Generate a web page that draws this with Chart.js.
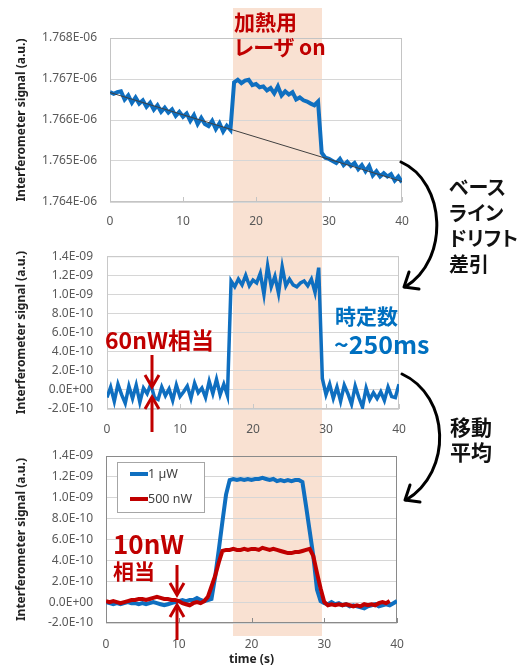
<!DOCTYPE html>
<html>
<head>
<meta charset="utf-8">
<script src="https://cdn.jsdelivr.net/npm/chart.js@4.4.1/dist/chart.umd.min.js"></script>
<style>
  body { margin: 0; width: 520px; height: 665px; position: relative; overflow: hidden; background: #fff; }
  #band { position: absolute; top: 8px; height: 628px; background: #f9e1d2; z-index: 0; }
  canvas { position: absolute; left: 0; z-index: 1; }
  .jp { position: absolute; z-index: 2; white-space: nowrap; font-family: "Noto Sans CJK JP", sans-serif;
        font-weight: 700; font-feature-settings: "palt"; }
  .red { color: #c00000; }
  .blue { color: #0070c0; }
  .blk { color: #111; }
  svg { position: absolute; left: 0; top: 0; z-index: 3; }
</style>
</head>
<body>
<div id="band"></div>
<canvas id="raw" width="520" height="235" style="top:0"></canvas>
<canvas id="sub" width="520" height="210" style="top:235px"></canvas>
<canvas id="avg" width="520" height="230" style="top:435px"></canvas>

<div class="jp red" style="left:234px;top:9px;font-size:21px;line-height:25px">加熱用<br>レーザ on</div>
<div class="jp blk" style="left:449px;top:174px;font-size:20px;line-height:25.5px">ベース<br>ライン<br>ドリフト<br>差引</div>
<div class="jp blk" style="left:450px;top:414px;font-size:21px;line-height:25px">移動<br>平均</div>
<div class="jp blue" style="left:335px;top:301px;font-size:21px;line-height:28px">時定数</div>
<div class="jp blue" style="left:334px;top:328px;font-size:25px;line-height:30px">~250ms</div>
<div class="jp red" style="left:105px;top:325px;font-size:23px;line-height:28px">60nW相当</div>
<div class="jp red" style="left:113px;top:528px;font-size:26px;line-height:30px">10nW</div>
<div class="jp red" style="left:113px;top:557px;font-size:21px;line-height:26px">相当</div>

<svg width="520" height="665">
  <g fill="none" stroke="#000" stroke-width="3" stroke-linecap="round" stroke-linejoin="round">
    <path d="M401,162 C446,182 450,260 405,287"/>
    <path d="M409,272 L404,287 L419,289"/>
    <path d="M402,374 C450,396 453,472 406,500"/>
    <path d="M410,485 L405,500 L420,502"/>
  </g>
  <g fill="none" stroke="#c00000" stroke-width="3">
    <path d="M152,355 V386"/><path d="M145,375 L152,387 L159,375"/>
    <path d="M152,398 V432"/><path d="M145,409 L152,397 L159,409"/>
    <path d="M177,565 V594"/><path d="M170,583 L177,595 L184,583"/>
    <path d="M177,606 V640"/><path d="M170,617 L177,605 L184,617"/>
  </g>
</svg>

<script>
// time axis (s)
const timeS = [0,0.5,1,1.5,2,2.5,3,3.5,4,4.5,5,5.5,6,6.5,7,7.5,8,8.5,9,9.5,
  10,10.5,11,11.5,12,12.5,13,13.5,14,14.5,15,15.5,16,16.5,17,17.5,18,18.5,19,19.5,
  20,20.5,21,21.5,22,22.5,23,23.5,24,24.5,25,25.5,26,26.5,27,27.5,28,28.5,29,29.5,
  30,30.5,31,31.5,32,32.5,33,33.5,34,34.5,35,35.5,36,36.5,37,37.5,38,38.5,39,39.5,40];

// raw interferometer signal, units of 1E-06
const rawSignal = [1.76668,1.76664,1.76668,1.76670,1.76650,1.76660,1.76642,1.76655,1.76640,1.76648,
  1.76632,1.76642,1.76625,1.76636,1.76620,1.76630,1.76618,1.76626,1.76610,1.76620,
  1.76608,1.76616,1.76598,1.76612,1.76590,1.76605,1.76590,1.76585,1.76598,1.76578,
  1.76592,1.76572,1.76586,1.76576,1.76692,1.76698,1.76690,1.76696,1.76698,1.76685,
  1.76688,1.76680,1.76682,1.76672,1.76678,1.76665,1.76682,1.76660,1.76670,1.76662,
  1.76668,1.76650,1.76655,1.76648,1.76645,1.76640,1.76636,1.76645,1.76520,1.76508,
  1.76505,1.76500,1.76495,1.76505,1.76490,1.76498,1.76488,1.76495,1.76480,1.76490,
  1.76475,1.76488,1.76465,1.76475,1.76462,1.76470,1.76462,1.76468,1.76452,1.76462,
  1.76448];

// baseline drift line
const driftTime = [0, 40];
const driftSignal = [1.76667, 1.76450];

// after drift subtraction, units of 1E-10
const subtracted = [-0.8,0.3,-1.2,0.6,-0.5,-1.4,0.4,-0.9,0.5,-1.3,
  0.2,-0.4,0.6,-0.8,-1.0,0.3,-0.6,0.1,-1.1,0.5,
  -0.7,-0.2,0.4,-0.9,0.7,-0.3,0.2,-0.8,0.9,-0.4,
  1.1,-0.5,0.6,-0.6,11.4,10.8,11.6,11.0,12.0,10.9,
  11.5,11.2,12.2,10.0,13.0,10.8,11.9,10.1,12.9,10.9,
  11.6,11.0,10.8,11.2,11.4,10.9,11.6,10.2,12.8,1.2,
  -0.5,0.6,-0.9,0.3,-1.2,0.5,-0.4,-1.5,0.4,-0.8,
  -1.8,0.2,-1.0,-0.3,-0.9,-0.2,-1.1,0.3,-0.7,-0.8,
  0.6];

// moving average, units of 1E-10
const avg1uW = [0.0,-0.1,-0.2,-0.1,-0.2,-0.1,0.0,-0.1,-0.1,-0.2,
  -0.1,-0.2,-0.1,0.0,-0.1,-0.2,-0.3,-0.2,-0.1,0.0,
  0.1,0.2,0.1,0.2,0.2,0.4,0.2,0.1,0.2,0.3,
  2.4,5.0,7.7,10.3,11.7,11.8,11.7,11.8,11.7,11.8,
  11.7,11.8,11.8,11.9,11.8,11.7,11.8,11.6,11.7,11.6,
  11.7,11.6,11.7,11.7,11.5,9.2,6.8,4.4,1.2,0.1,
  -0.1,-0.2,0.0,-0.2,-0.1,-0.3,-0.2,-0.4,-0.3,-0.4,
  -0.5,-0.6,-0.4,-0.3,-0.2,-0.4,-0.3,-0.2,-0.3,-0.1,
  0.1];
const avg500nW = [0.1,0.0,0.1,0.0,-0.1,0.0,0.1,0.2,0.2,0.3,
  0.3,0.2,0.3,0.4,0.5,0.4,0.3,0.3,0.2,0.2,
  0.1,-0.1,-0.2,-0.3,-0.1,0.0,-0.1,0.1,0.5,1.5,
  2.5,3.8,4.9,5.0,5.0,5.1,5.0,5.0,5.1,5.0,
  5.1,5.1,5.0,5.2,5.1,5.0,5.1,5.0,4.9,4.8,
  4.7,4.7,4.8,4.8,4.9,5.0,5.1,4.4,2.8,1.3,
  0.0,-0.3,-0.2,-0.3,-0.2,-0.3,-0.2,-0.3,-0.4,-0.3,
  -0.4,-0.2,-0.3,-0.2,-0.3,-0.1,0.0,-0.1,0.1];

const seriesLabels = ['1 µW', '500 nW'];
const xTicks = ['0', '10', '20', '30', '40'];
const yTicksRaw = ['1.764E-06', '1.765E-06', '1.766E-06', '1.767E-06', '1.768E-06'];
const yTicksSub = ['-2.0E-10', '0.0E+00', '2.0E-10', '4.0E-10', '6.0E-10', '8.0E-10', '1.0E-09', '1.2E-09', '1.4E-09'];

// heating laser on / off (s)
const heaterOn = 16.8;
const heaterOff = 29.0;

const BLUE = '#0f6fc0';
const RED = '#c00000';
const TICK_FONT = { family: '"Noto Sans"', size: 12 };

function pts(xs, ys) {
  return ys.map((v, i) => ({ x: xs[i], y: v }));
}

// plot-area box + small inward ticks like Excel
const framePlugin = {
  id: 'frame',
  defaults: { color: '#c0c0c0' },
  beforeDatasetsDraw(chart, args, opts) {
    const { ctx, chartArea: a, scales: { x } } = chart;
    ctx.save();
    ctx.strokeStyle = opts.color;
    ctx.lineWidth = 1;
    ctx.strokeRect(a.left + 0.5, a.top + 0.5, a.width - 1, a.height - 1);
    x.ticks.forEach(t => {
      const px = Math.round(x.getPixelForValue(t.value)) + 0.5;
      ctx.beginPath();
      ctx.moveTo(px, a.bottom);
      ctx.lineTo(px, a.bottom - 5);
      ctx.stroke();
    });
    ctx.restore();
  }
};

const boxLegend = {
  id: 'boxLegend',
  defaults: { show: false },
  afterDatasetsDraw(chart, args, opts) {
    if (!opts.show) return;
    const { ctx, chartArea: a } = chart;
    const x0 = a.left + 11, y0 = a.top + 6;
    ctx.save();
    ctx.fillStyle = '#fff';
    ctx.fillRect(x0, y0, 87, 50);
    ctx.strokeStyle = '#a6a6a6';
    ctx.lineWidth = 1;
    ctx.strokeRect(x0 + 0.5, y0 + 0.5, 87, 50);
    ctx.font = '12.5px "Noto Sans"';
    ctx.textBaseline = 'middle';
    chart.data.datasets.forEach((d, i) => {
      const y = y0 + 12 + i * 25;
      ctx.strokeStyle = d.borderColor;
      ctx.lineWidth = 4;
      ctx.beginPath();
      ctx.moveTo(x0 + 13, y);
      ctx.lineTo(x0 + 31, y);
      ctx.stroke();
      ctx.fillStyle = '#404040';
      ctx.fillText(d.label, x0 + 31, y);
    });
    ctx.restore();
  }
};

Chart.register(framePlugin, boxLegend);

function makeChart(id, datasets, cfg) {
  return new Chart(document.getElementById(id), {
    type: 'line',
    data: { datasets },
    options: {
      responsive: false,
      animation: false,
      layout: { padding: { top: cfg.top, right: cfg.right, left: 0, bottom: 0 } },
      elements: { point: { radius: 0 }, line: { tension: 0 } },
      plugins: {
        legend: { display: false },
        tooltip: { enabled: false },
        frame: { color: cfg.frame },
        boxLegend: { show: !!cfg.legend }
      },
      scales: {
        x: {
          type: 'linear', min: 0, max: 40,
          afterFit(s) { s.height = cfg.xh; },
          grid: { display: false },
          border: { display: false },
          ticks: { stepSize: 10, padding: cfg.xpad, color: '#595959', font: TICK_FONT, maxRotation: 0,
                   callback: (v, i) => xTicks[i] },
          title: cfg.xTitle ? { display: true, text: cfg.xTitle, color: '#222',
                   font: { family: '"Noto Sans"', size: 12, weight: 'bold' }, padding: { top: 0, bottom: -2 } }
                 : { display: false }
        },
        y: {
          min: cfg.min, max: cfg.max,
          afterFit(s) { s.width = cfg.yw; },
          grid: { color: '#d6d6d6', drawTicks: false },
          border: { display: false },
          ticks: { stepSize: cfg.step, padding: cfg.ypad, color: '#595959', font: TICK_FONT,
                   callback: (v, i) => cfg.labels[i] },
          title: { display: true, text: 'Interferometer signal (a.u.)', color: '#222',
                   font: { family: '"Noto Sans"', size: 12, weight: 'bold' }, padding: { top: 14, bottom: 0 } }
        }
      }
    }
  });
}

const rawChart = makeChart('raw', [
  { data: pts(driftTime, driftSignal), borderColor: '#404040', borderWidth: 1, order: 0 },
  { data: pts(timeS, rawSignal), borderColor: BLUE, borderWidth: 4, order: 1 }
], { top: 38, right: 118, yw: 110, xh: 33, xpad: 4, ypad: 13, min: 1.764, max: 1.768, step: 0.001,
     labels: yTicksRaw, frame: '#c4c4c4' });

makeChart('sub', [
  { data: pts(timeS, subtracted), borderColor: BLUE, borderWidth: 3.5 }
], { top: 18, right: 121, yw: 107, xh: 36, xpad: 5, ypad: 14, min: -2, max: 14, step: 2,
     labels: yTicksSub, frame: '#c8c8c8' });

makeChart('avg', [
  { label: seriesLabels[0], data: pts(timeS, avg1uW), borderColor: BLUE, borderWidth: 4, order: 1 },
  { label: seriesLabels[1], data: pts(timeS, avg500nW), borderColor: RED, borderWidth: 4, order: 0 }
], { top: 21, right: 123, yw: 106, xh: 42, xpad: 6, ypad: 13, min: -2, max: 14, step: 2,
     labels: yTicksSub, frame: '#8a8a8a', legend: true, xTitle: 'time (s)' });

// heating band placed through the top chart's time scale
const band = document.getElementById('band');
const bx0 = rawChart.scales.x.getPixelForValue(heaterOn);
const bx1 = rawChart.scales.x.getPixelForValue(heaterOff);
band.style.left = bx0 + 'px';
band.style.width = (bx1 - bx0) + 'px';
</script>
</body>
</html>
